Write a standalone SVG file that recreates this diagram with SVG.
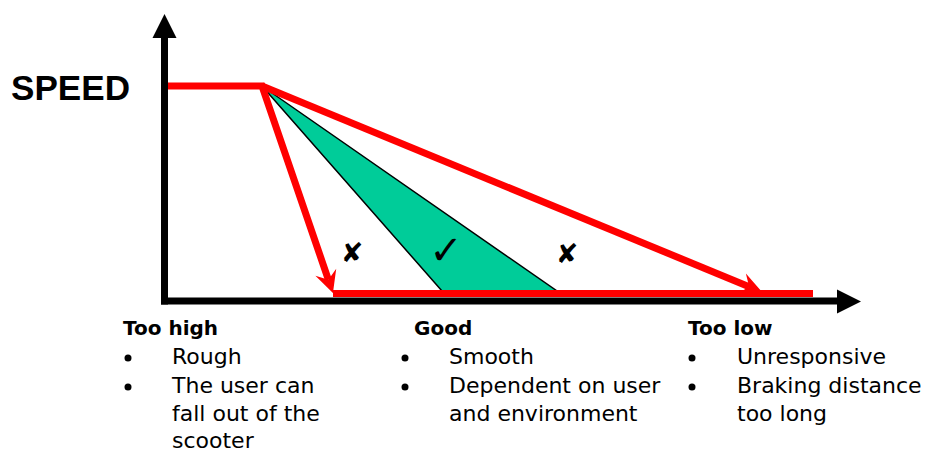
<svg xmlns="http://www.w3.org/2000/svg" width="931" height="454" viewBox="0 0 931 454">
  <style>
    .red { stroke: #FF0000; stroke-width: 7; fill: none; stroke-linecap: butt; stroke-linejoin: miter; }
    .axis { stroke: #000000; stroke-width: 7; fill: none; }
    .head { fill: #000000; }
    .lbl { font-family: "DejaVu Sans", "Liberation Sans", sans-serif; font-size: 22px; fill: #000000; }
    .hd { font-family: "DejaVu Sans", "Liberation Sans", sans-serif; font-size: 20px; font-weight: bold; fill: #000000; }
    .mark { font-family: "DejaVu Sans", sans-serif; fill: #000000; text-anchor: middle; }
  </style>
  <defs>
    <marker id="redhead" markerUnits="userSpaceOnUse" markerWidth="40" markerHeight="40" refX="8" refY="0" orient="auto" overflow="visible" viewBox="-5 -15 40 30">
      <path d="M0,-11 L22,0 L0,11 L8,0 Z" fill="#FF0000"/>
    </marker>
  </defs>
  <rect width="931" height="454" fill="#FFFFFF"/>

  <g id="good-region">
    <polygon points="262,86 442,291 557,291" fill="#00CC99" stroke="#000000" stroke-width="1.5" stroke-linejoin="miter"/>
  </g>

  <g id="axes">
    <line class="axis" x1="164.5" y1="36" x2="164.5" y2="304.5"/>
    <polygon class="head" points="164.5,14 152.5,38 176.5,38"/>
    <line class="axis" x1="161" y1="301" x2="839" y2="301"/>
    <polygon class="head" points="861,301.5 837,289.5 837,313.5"/>
  </g>

  <g id="connectors">
    <polyline class="red" points="168,86 262,86 328.4,279.8" marker-end="url(#redhead)"/>
    <line class="red" x1="262" y1="86" x2="749.1" y2="286.7" marker-end="url(#redhead)"/>
    <line class="red" x1="333" y1="293.5" x2="813" y2="293.5"/>
  </g>

  <g id="marks">
    <text class="mark" x="352" y="262" font-size="27" font-weight="bold">✘</text>
    <text class="mark" x="446" y="264" font-size="40" font-weight="bold">✓</text>
    <text class="mark" x="567" y="263" font-size="27" font-weight="bold">✘</text>
  </g>

  <g id="speed-label">
    <text x="11" y="100" font-family="'Liberation Sans', Arial, sans-serif" font-size="35" font-weight="bold" fill="#000000" textLength="119" lengthAdjust="spacingAndGlyphs">SPEED</text>
  </g>

  <g id="too-high">
    <text class="hd" x="123" y="335">Too high</text>
    <circle cx="128" cy="358" r="3.5"/>
    <circle cx="128" cy="387" r="3.5"/>
    <text class="lbl" x="172" y="364">Rough</text>
    <text class="lbl" x="172" y="393">The user can</text>
    <text class="lbl" x="172" y="421">fall out of the</text>
    <text class="lbl" x="172" y="448">scooter</text>
  </g>

  <g id="good">
    <text class="hd" x="414" y="335">Good</text>
    <circle cx="405" cy="358" r="3.5"/>
    <circle cx="405" cy="387" r="3.5"/>
    <text class="lbl" x="449" y="364">Smooth</text>
    <text class="lbl" x="449" y="393">Dependent on user</text>
    <text class="lbl" x="449" y="421">and environment</text>
  </g>

  <g id="too-low">
    <text class="hd" x="688" y="335">Too low</text>
    <circle cx="692" cy="358" r="3.5"/>
    <circle cx="692" cy="387" r="3.5"/>
    <text class="lbl" x="737" y="364">Unresponsive</text>
    <text class="lbl" x="737" y="393">Braking distance</text>
    <text class="lbl" x="737" y="421">too long</text>
  </g>
</svg>
